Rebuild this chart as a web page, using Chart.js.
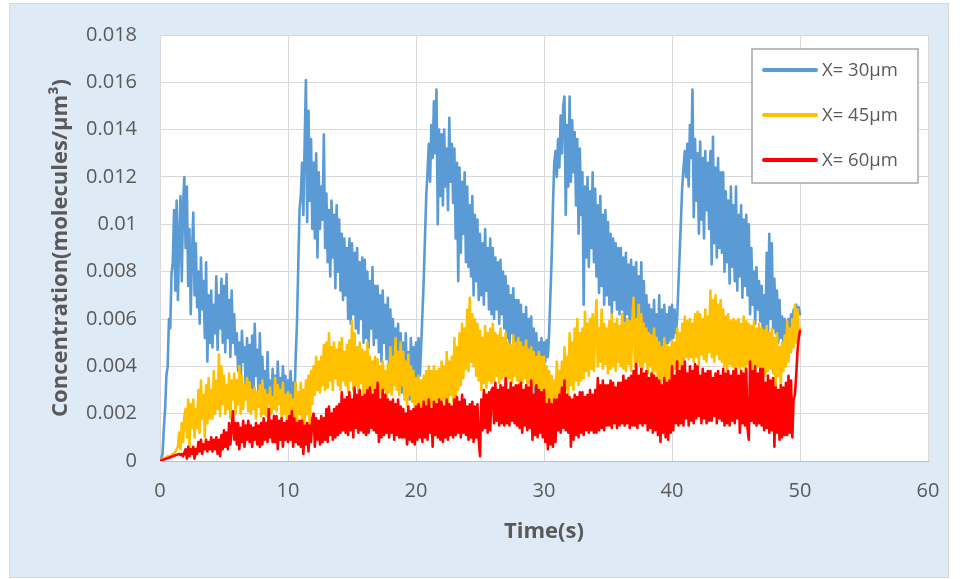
<!DOCTYPE html>
<html>
<head>
<meta charset="utf-8">
<title>Concentration vs time</title>
<script src="https://cdn.jsdelivr.net/npm/chart.js@4.4.1/dist/chart.umd.min.js"></script>
<style>
  html, body { margin: 0; padding: 0; background: #ffffff; }
  canvas { display: block; }
</style>
</head>
<body>
<canvas id="chart" width="960" height="579"></canvas>
<script>
// Sample times (s), one row per second
const times = [
  0,0.1,0.2,0.3,0.4,0.5,0.6,0.7,0.8,0.9,
  1,1.1,1.2,1.3,1.4,1.5,1.6,1.7,1.8,1.9,
  2,2.1,2.2,2.3,2.4,2.5,2.6,2.7,2.8,2.9,
  3,3.1,3.2,3.3,3.4,3.5,3.6,3.7,3.8,3.9,
  4,4.1,4.2,4.3,4.4,4.5,4.6,4.7,4.8,4.9,
  5,5.1,5.2,5.3,5.4,5.5,5.6,5.7,5.8,5.9,
  6,6.1,6.2,6.3,6.4,6.5,6.6,6.7,6.8,6.9,
  7,7.1,7.2,7.3,7.4,7.5,7.6,7.7,7.8,7.9,
  8,8.1,8.2,8.3,8.4,8.5,8.6,8.7,8.8,8.9,
  9,9.1,9.2,9.3,9.4,9.5,9.6,9.7,9.8,9.9,
  10,10.1,10.2,10.3,10.4,10.5,10.6,10.7,10.8,10.9,
  11,11.1,11.2,11.3,11.4,11.5,11.6,11.7,11.8,11.9,
  12,12.1,12.2,12.3,12.4,12.5,12.6,12.7,12.8,12.9,
  13,13.1,13.2,13.3,13.4,13.5,13.6,13.7,13.8,13.9,
  14,14.1,14.2,14.3,14.4,14.5,14.6,14.7,14.8,14.9,
  15,15.1,15.2,15.3,15.4,15.5,15.6,15.7,15.8,15.9,
  16,16.1,16.2,16.3,16.4,16.5,16.6,16.7,16.8,16.9,
  17,17.1,17.2,17.3,17.4,17.5,17.6,17.7,17.8,17.9,
  18,18.1,18.2,18.3,18.4,18.5,18.6,18.7,18.8,18.9,
  19,19.1,19.2,19.3,19.4,19.5,19.6,19.7,19.8,19.9,
  20,20.1,20.2,20.3,20.4,20.5,20.6,20.7,20.8,20.9,
  21,21.1,21.2,21.3,21.4,21.5,21.6,21.7,21.8,21.9,
  22,22.1,22.2,22.3,22.4,22.5,22.6,22.7,22.8,22.9,
  23,23.1,23.2,23.3,23.4,23.5,23.6,23.7,23.8,23.9,
  24,24.1,24.2,24.3,24.4,24.5,24.6,24.7,24.8,24.9,
  25,25.1,25.2,25.3,25.4,25.5,25.6,25.7,25.8,25.9,
  26,26.1,26.2,26.3,26.4,26.5,26.6,26.7,26.8,26.9,
  27,27.1,27.2,27.3,27.4,27.5,27.6,27.7,27.8,27.9,
  28,28.1,28.2,28.3,28.4,28.5,28.6,28.7,28.8,28.9,
  29,29.1,29.2,29.3,29.4,29.5,29.6,29.7,29.8,29.9,
  30,30.1,30.2,30.3,30.4,30.5,30.6,30.7,30.8,30.9,
  31,31.1,31.2,31.3,31.4,31.5,31.6,31.7,31.8,31.9,
  32,32.1,32.2,32.3,32.4,32.5,32.6,32.7,32.8,32.9,
  33,33.1,33.2,33.3,33.4,33.5,33.6,33.7,33.8,33.9,
  34,34.1,34.2,34.3,34.4,34.5,34.6,34.7,34.8,34.9,
  35,35.1,35.2,35.3,35.4,35.5,35.6,35.7,35.8,35.9,
  36,36.1,36.2,36.3,36.4,36.5,36.6,36.7,36.8,36.9,
  37,37.1,37.2,37.3,37.4,37.5,37.6,37.7,37.8,37.9,
  38,38.1,38.2,38.3,38.4,38.5,38.6,38.7,38.8,38.9,
  39,39.1,39.2,39.3,39.4,39.5,39.6,39.7,39.8,39.9,
  40,40.1,40.2,40.3,40.4,40.5,40.6,40.7,40.8,40.9,
  41,41.1,41.2,41.3,41.4,41.5,41.6,41.7,41.8,41.9,
  42,42.1,42.2,42.3,42.4,42.5,42.6,42.7,42.8,42.9,
  43,43.1,43.2,43.3,43.4,43.5,43.6,43.7,43.8,43.9,
  44,44.1,44.2,44.3,44.4,44.5,44.6,44.7,44.8,44.9,
  45,45.1,45.2,45.3,45.4,45.5,45.6,45.7,45.8,45.9,
  46,46.1,46.2,46.3,46.4,46.5,46.6,46.7,46.8,46.9,
  47,47.1,47.2,47.3,47.4,47.5,47.6,47.7,47.8,47.9,
  48,48.1,48.2,48.3,48.4,48.5,48.6,48.7,48.8,48.9,
  49,49.1,49.2,49.3,49.4,49.5,49.6,49.7,49.8,49.9,
  50
];

// Concentration (molecules/µm³) at X = 30 µm
const conc30 = [
  0,0.0001,0.0003,0.0014,0.0022,0.0036,0.0040,0.0060,0.0056,0.0079,
  0.0084,0.0106,0.0072,0.0110,0.0068,0.0094,0.0112,0.0076,0.0108,0.0120,
  0.0090,0.0116,0.0074,0.0098,0.0062,0.0088,0.0105,0.0070,0.0092,0.0065,
  0.0080,0.0058,0.0086,0.0064,0.0076,0.0052,0.0084,0.0042,0.0070,0.0050,
  0.0072,0.0048,0.0066,0.0054,0.0078,0.0047,0.0070,0.0056,0.0077,0.0050,
  0.0074,0.0046,0.0079,0.0052,0.0068,0.0044,0.0072,0.0050,0.0062,0.0045,
  0.0054,0.0038,0.0050,0.0033,0.0055,0.0042,0.0048,0.0030,0.0052,0.0034,
  0.0049,0.0031,0.0053,0.0028,0.0058,0.0036,0.0047,0.0026,0.0054,0.0032,
  0.0044,0.0024,0.0038,0.0020,0.0046,0.0026,0.0034,0.0021,0.0039,0.0025,
  0.0036,0.0022,0.0042,0.0027,0.0035,0.0023,0.0040,0.0028,0.0036,0.0022,
  0.0034,0.0022,0.0038,0.0026,0.0033,0.0024,0.0044,0.0058,0.0082,0.0106,
  0.0112,0.0126,0.0104,0.0134,0.0161,0.0101,0.0148,0.0110,0.0136,0.0098,
  0.0126,0.0094,0.0130,0.0086,0.0122,0.0098,0.0116,0.0102,0.0138,0.0090,
  0.0113,0.0084,0.0106,0.0078,0.0110,0.0086,0.0104,0.0073,0.0108,0.0080,
  0.0102,0.0072,0.0096,0.0068,0.0094,0.0070,0.0090,0.0060,0.0094,0.0058,
  0.0092,0.0062,0.0088,0.0056,0.0090,0.0054,0.0084,0.0060,0.0086,0.0050,
  0.0085,0.0052,0.0080,0.0048,0.0076,0.0056,0.0082,0.0049,0.0074,0.0052,
  0.0074,0.0046,0.0070,0.0042,0.0072,0.0050,0.0066,0.0043,0.0069,0.0040,
  0.0064,0.0038,0.0060,0.0034,0.0056,0.0039,0.0058,0.0032,0.0054,0.0029,
  0.0050,0.0028,0.0054,0.0032,0.0046,0.0026,0.0052,0.0034,0.0048,0.0030,
  0.0050,0.0034,0.0052,0.0036,0.0048,0.0062,0.0076,0.0094,0.0112,0.0122,
  0.0134,0.0118,0.0142,0.0128,0.0152,0.0130,0.0157,0.0100,0.0140,0.0112,
  0.0138,0.0108,0.0140,0.0116,0.0132,0.0106,0.0145,0.0118,0.0134,0.0109,
  0.0132,0.0094,0.0126,0.0076,0.0124,0.0088,0.0118,0.0096,0.0122,0.0084,
  0.0116,0.0082,0.0108,0.0078,0.0112,0.0070,0.0104,0.0076,0.0102,0.0068,
  0.0096,0.0070,0.0092,0.0066,0.0098,0.0072,0.0090,0.0064,0.0094,0.0062,
  0.0090,0.0060,0.0086,0.0064,0.0084,0.0058,0.0085,0.0062,0.0080,0.0056,
  0.0078,0.0052,0.0074,0.0048,0.0070,0.0054,0.0073,0.0045,0.0068,0.0047,
  0.0068,0.0042,0.0066,0.0046,0.0062,0.0038,0.0065,0.0044,0.0060,0.0039,
  0.0061,0.0036,0.0056,0.0024,0.0054,0.0038,0.0050,0.0034,0.0052,0.0039,
  0.0050,0.0042,0.0051,0.0044,0.0054,0.0070,0.0086,0.0108,0.0126,0.0131,
  0.0120,0.0136,0.0124,0.0146,0.0130,0.0150,0.0154,0.0104,0.0142,0.0116,
  0.0154,0.0118,0.0144,0.0122,0.0139,0.0108,0.0136,0.0096,0.0132,0.0104,
  0.0122,0.0066,0.0116,0.0086,0.0120,0.0082,0.0114,0.0090,0.0122,0.0084,
  0.0115,0.0078,0.0108,0.0071,0.0112,0.0074,0.0104,0.0066,0.0106,0.0070,
  0.0101,0.0066,0.0096,0.0062,0.0094,0.0068,0.0092,0.0064,0.0090,0.0062,
  0.0090,0.0064,0.0086,0.0059,0.0088,0.0062,0.0083,0.0056,0.0085,0.0058,
  0.0082,0.0054,0.0084,0.0050,0.0078,0.0056,0.0084,0.0048,0.0076,0.0052,
  0.0070,0.0050,0.0066,0.0052,0.0064,0.0046,0.0068,0.0040,0.0062,0.0044,
  0.0070,0.0042,0.0064,0.0048,0.0066,0.0044,0.0062,0.0050,0.0065,0.0051,
  0.0066,0.0052,0.0064,0.0054,0.0060,0.0074,0.0088,0.0102,0.0116,0.0124,
  0.0131,0.0120,0.0134,0.0116,0.0142,0.0128,0.0157,0.0103,0.0136,0.0110,
  0.0130,0.0096,0.0135,0.0102,0.0128,0.0094,0.0131,0.0106,0.0126,0.0098,
  0.0131,0.0083,0.0137,0.0092,0.0124,0.0086,0.0128,0.0090,0.0122,0.0088,
  0.0122,0.0080,0.0114,0.0084,0.0110,0.0075,0.0116,0.0082,0.0108,0.0076,
  0.0116,0.0072,0.0104,0.0078,0.0108,0.0069,0.0102,0.0074,0.0104,0.0070,
  0.0100,0.0062,0.0090,0.0066,0.0080,0.0058,0.0082,0.0064,0.0076,0.0059,
  0.0074,0.0052,0.0070,0.0056,0.0088,0.0054,0.0096,0.0060,0.0092,0.0056,
  0.0077,0.0054,0.0072,0.0050,0.0068,0.0052,0.0061,0.0050,0.0060,0.0053,
  0.0058,0.0060,0.0056,0.0062,0.0057,0.0064,0.0059,0.0066,0.0063,0.0065,
  0.0062
];

// Concentration (molecules/µm³) at X = 45 µm
const conc45 = [
  0,0.00005,0.0001,0.0001,0.00015,0.00015,0.0002,0.0002,0.0002,0.00025,
  0.0003,0.0003,0.0004,0.0005,0.0006,0.0012,0.0005,0.0016,0.0008,0.0019,
  0.0022,0.0010,0.0026,0.0006,0.0024,0.0014,0.0026,0.0010,0.0022,0.0014,
  0.0030,0.0012,0.0034,0.0018,0.0028,0.0010,0.0032,0.0016,0.0035,0.0018,
  0.0030,0.0018,0.0038,0.0020,0.0034,0.0022,0.0045,0.0019,0.0040,0.0024,
  0.0036,0.0020,0.0032,0.0022,0.0037,0.0018,0.0034,0.0026,0.0037,0.0020,
  0.0034,0.0024,0.0040,0.0020,0.0036,0.0022,0.0032,0.0026,0.0035,0.0021,
  0.0033,0.0020,0.0030,0.0022,0.0031,0.0018,0.0029,0.0023,0.0032,0.0019,
  0.0034,0.0020,0.0030,0.0019,0.0028,0.0024,0.0031,0.0020,0.0027,0.0022,
  0.0035,0.0021,0.0032,0.0024,0.0030,0.0018,0.0033,0.0020,0.0028,0.0018,
  0.0029,0.0018,0.0028,0.0017,0.0026,0.0019,0.0033,0.0016,0.0029,0.0020,
  0.0033,0.0014,0.0030,0.0016,0.0034,0.0020,0.0036,0.0013,0.0038,0.0024,
  0.0040,0.0028,0.0044,0.0030,0.0042,0.0029,0.0044,0.0032,0.0049,0.0030,
  0.0050,0.0031,0.0054,0.0034,0.0048,0.0030,0.0050,0.0035,0.0047,0.0032,
  0.0050,0.0030,0.0052,0.0034,0.0046,0.0032,0.0049,0.0029,0.0051,0.0034,
  0.0059,0.0030,0.0054,0.0032,0.0048,0.0029,0.0050,0.0033,0.0047,0.0028,
  0.0046,0.0029,0.0050,0.0031,0.0044,0.0028,0.0042,0.0030,0.0044,0.0026,
  0.0043,0.0027,0.0040,0.0028,0.0042,0.0030,0.0038,0.0027,0.0041,0.0029,
  0.0048,0.0028,0.0044,0.0032,0.0052,0.0030,0.0046,0.0028,0.0050,0.0032,
  0.0046,0.0026,0.0042,0.0023,0.0045,0.0028,0.0040,0.0025,0.0038,0.0023,
  0.0035,0.0020,0.0036,0.0022,0.0034,0.0021,0.0036,0.0022,0.0038,0.0020,
  0.0040,0.0023,0.0038,0.0024,0.0040,0.0022,0.0038,0.0026,0.0039,0.0023,
  0.0042,0.0026,0.0040,0.0024,0.0046,0.0025,0.0042,0.0028,0.0044,0.0025,
  0.0052,0.0024,0.0048,0.0030,0.0054,0.0032,0.0058,0.0035,0.0056,0.0039,
  0.0064,0.0038,0.0069,0.0042,0.0062,0.0040,0.0060,0.0036,0.0058,0.0034,
  0.0055,0.0030,0.0052,0.0033,0.0057,0.0031,0.0054,0.0034,0.0056,0.0033,
  0.0058,0.0034,0.0054,0.0036,0.0053,0.0033,0.0056,0.0035,0.0052,0.0036,
  0.0054,0.0032,0.0050,0.0035,0.0049,0.0033,0.0053,0.0036,0.0050,0.0034,
  0.0052,0.0031,0.0050,0.0033,0.0048,0.0035,0.0051,0.0032,0.0047,0.0033,
  0.0048,0.0030,0.0046,0.0032,0.0044,0.0030,0.0046,0.0028,0.0044,0.0026,
  0.0044,0.0022,0.0040,0.0020,0.0038,0.0017,0.0036,0.0022,0.0034,0.0022,
  0.0042,0.0024,0.0038,0.0026,0.0042,0.0024,0.0048,0.0030,0.0044,0.0028,
  0.0054,0.0032,0.0050,0.0030,0.0056,0.0034,0.0060,0.0032,0.0054,0.0034,
  0.0056,0.0035,0.0063,0.0038,0.0058,0.0036,0.0060,0.0039,0.0062,0.0038,
  0.0058,0.0068,0.0040,0.0056,0.0042,0.0064,0.0039,0.0058,0.0041,0.0056,
  0.0037,0.0059,0.0039,0.0062,0.0040,0.0058,0.0038,0.0060,0.0042,0.0057,
  0.0040,0.0062,0.0039,0.0058,0.0038,0.0060,0.0041,0.0059,0.0038,0.0060,
  0.0069,0.0040,0.0060,0.0042,0.0066,0.0040,0.0062,0.0039,0.0058,0.0042,
  0.0056,0.0037,0.0054,0.0040,0.0053,0.0036,0.0056,0.0038,0.0052,0.0034,
  0.0050,0.0031,0.0048,0.0034,0.0052,0.0032,0.0049,0.0033,0.0048,0.0035,
  0.0051,0.0038,0.0050,0.0039,0.0056,0.0040,0.0054,0.0039,0.0058,0.0041,
  0.0061,0.0044,0.0059,0.0043,0.0060,0.0044,0.0058,0.0042,0.0062,0.0044,
  0.0063,0.0041,0.0062,0.0045,0.0060,0.0043,0.0064,0.0042,0.0061,0.0046,
  0.0072,0.0044,0.0068,0.0042,0.0070,0.0045,0.0066,0.0043,0.0068,0.0042,
  0.0064,0.0040,0.0061,0.0038,0.0062,0.0041,0.0059,0.0040,0.0060,0.0039,
  0.0059,0.0040,0.0060,0.0039,0.0058,0.0040,0.0061,0.0038,0.0059,0.0041,
  0.0058,0.0040,0.0057,0.0038,0.0059,0.0039,0.0056,0.0040,0.0058,0.0038,
  0.0056,0.0040,0.0055,0.0036,0.0057,0.0038,0.0054,0.0039,0.0056,0.0037,
  0.0052,0.0030,0.0054,0.0036,0.0048,0.0032,0.0050,0.0038,0.0053,0.0040,
  0.0059,0.0042,0.0056,0.0046,0.0060,0.0048,0.0066,0.0050,0.0064,0.0054,
  0.0056
];

// Concentration (molecules/µm³) at X = 60 µm
const conc60 = [
  0,0.00002,0.00004,0.00006,0.00008,0.0001,0.00012,0.00014,0.00016,0.00018,
  0.0002,0.00022,0.00024,0.00026,0.00028,0.0003,0.00025,0.0003,0.0002,0.00035,
  0.0005,0.0001,0.0006,0.0002,0.0005,0.0003,0.0006,0.0001,0.0005,0.0003,
  0.0008,0.0004,0.0009,0.0003,0.0007,0.0005,0.0009,0.0004,0.0008,0.0005,
  0.0010,0.0004,0.0009,0.0005,0.0010,0.0003,0.0009,0.0002,0.0011,0.0005,
  0.0013,0.0006,0.0012,0.0005,0.0016,0.0007,0.0014,0.0021,0.0009,0.0016,
  0.0007,0.0016,0.0005,0.0014,0.0008,0.0017,0.0006,0.0015,0.0009,0.0017,
  0.0008,0.0015,0.0006,0.0014,0.0009,0.0016,0.0007,0.0015,0.0006,0.0016,
  0.0007,0.0018,0.0009,0.0016,0.0008,0.0022,0.0010,0.0017,0.0008,0.0019,
  0.0008,0.0019,0.0005,0.0017,0.0009,0.0018,0.0006,0.0016,0.0009,0.0017,
  0.0008,0.0019,0.0009,0.0021,0.0006,0.0018,0.0008,0.0016,0.0007,0.0017,
  0.0006,0.0017,0.0003,0.0015,0.0007,0.0016,0.0004,0.0015,0.0008,0.0018,
  0.0020,0.0006,0.0018,0.0009,0.0017,0.0007,0.0019,0.0008,0.0018,0.0009,
  0.0022,0.0008,0.0023,0.0011,0.0020,0.0009,0.0022,0.0010,0.0023,0.0011,
  0.0024,0.0012,0.0029,0.0013,0.0026,0.0012,0.0027,0.0011,0.0029,0.0013,
  0.0026,0.0010,0.0031,0.0014,0.0028,0.0012,0.0030,0.0013,0.0027,0.0012,
  0.0028,0.0011,0.0030,0.0012,0.0031,0.0014,0.0028,0.0013,0.0030,0.0012,
  0.0033,0.0008,0.0026,0.0010,0.0030,0.0011,0.0028,0.0012,0.0026,0.0010,
  0.0025,0.0012,0.0026,0.0009,0.0024,0.0011,0.0026,0.0010,0.0023,0.0010,
  0.0022,0.0010,0.0020,0.0007,0.0023,0.0009,0.0021,0.0008,0.0022,0.0007,
  0.0023,0.0009,0.0024,0.0010,0.0022,0.0008,0.0025,0.0010,0.0023,0.0009,
  0.0026,0.0012,0.0022,0.0006,0.0025,0.0011,0.0024,0.0010,0.0026,0.0009,
  0.0025,0.0008,0.0023,0.0010,0.0026,0.0009,0.0024,0.0011,0.0023,0.0010,
  0.0026,0.0011,0.0027,0.0012,0.0025,0.0010,0.0028,0.0012,0.0026,0.0011,
  0.0023,0.0009,0.0024,0.0010,0.0025,0.0008,0.0023,0.0010,0.0024,0.0009,
  0.0002,0.0026,0.0013,0.0030,0.0014,0.0028,0.0012,0.0029,0.0013,0.0030,
  0.0031,0.0016,0.0033,0.0017,0.0030,0.0015,0.0032,0.0016,0.0031,0.0015,
  0.0035,0.0016,0.0030,0.0015,0.0033,0.0017,0.0031,0.0016,0.0032,0.0015,
  0.0032,0.0014,0.0033,0.0012,0.0030,0.0015,0.0032,0.0013,0.0031,0.0014,
  0.0034,0.0009,0.0028,0.0011,0.0032,0.0010,0.0030,0.0012,0.0029,0.0010,
  0.0030,0.0008,0.0024,0.0005,0.0026,0.0007,0.0024,0.0006,0.0026,0.0008,
  0.0026,0.0013,0.0028,0.0012,0.0031,0.0014,0.0034,0.0013,0.0028,0.0012,
  0.0027,0.0006,0.0026,0.0009,0.0028,0.0011,0.0027,0.0010,0.0029,0.0012,
  0.0029,0.0011,0.0027,0.0013,0.0028,0.0012,0.0030,0.0013,0.0028,0.0012,
  0.0030,0.0012,0.0035,0.0013,0.0032,0.0014,0.0034,0.0013,0.0032,0.0015,
  0.0032,0.0015,0.0034,0.0014,0.0033,0.0016,0.0031,0.0014,0.0033,0.0015,
  0.0033,0.0016,0.0036,0.0015,0.0034,0.0016,0.0035,0.0014,0.0036,0.0015,
  0.0038,0.0015,0.0041,0.0014,0.0036,0.0016,0.0039,0.0015,0.0037,0.0016,
  0.0038,0.0013,0.0035,0.0014,0.0037,0.0012,0.0036,0.0013,0.0035,0.0011,
  0.0034,0.0008,0.0032,0.0012,0.0035,0.0010,0.0033,0.0009,0.0034,0.0012,
  0.0040,0.0013,0.0036,0.0016,0.0042,0.0015,0.0038,0.0016,0.0040,0.0015,
  0.0042,0.0018,0.0037,0.0015,0.0040,0.0017,0.0038,0.0016,0.0041,0.0018,
  0.0040,0.0019,0.0036,0.0016,0.0039,0.0018,0.0037,0.0016,0.0038,0.0017,
  0.0038,0.0017,0.0035,0.0019,0.0037,0.0016,0.0038,0.0018,0.0036,0.0017,
  0.0039,0.0015,0.0037,0.0016,0.0038,0.0015,0.0036,0.0017,0.0038,0.0016,
  0.0039,0.0018,0.0036,0.0012,0.0038,0.0016,0.0037,0.0015,0.0039,0.0014,
  0.0009,0.0042,0.0017,0.0038,0.0016,0.0040,0.0015,0.0037,0.0016,0.0039,
  0.0015,0.0039,0.0013,0.0033,0.0014,0.0036,0.0012,0.0034,0.0013,0.0035,
  0.0006,0.0031,0.0012,0.0030,0.0009,0.0032,0.0010,0.0031,0.0011,0.0033,
  0.0011,0.0036,0.0012,0.0034,0.0010,0.0026,0.0028,0.0036,0.0046,0.0052,
  0.0055
];

const seriesLabels = ['X= 30µm', 'X= 45µm', 'X= 60µm'];
const seriesColors = ['#5B9BD5', '#FFC000', '#FF0000'];

const xTickValues = [0, 10, 20, 30, 40, 50, 60];
const yTickValues = [0, 0.002, 0.004, 0.006, 0.008, 0.01, 0.012, 0.014, 0.016, 0.018];
const yTickLabels = ['0', '0.002', '0.004', '0.006', '0.008', '0.01', '0.012', '0.014', '0.016', '0.018'];

const FONT = "'Open Sans', 'Noto Sans', sans-serif";
const TEXT_GREY = '#595959';

function toPoints(values) {
  return times.map((t, i) => ({ x: t, y: values[i] }));
}

// Light-blue chart frame and white plot area
const framePlugin = {
  id: 'frame',
  beforeDraw(chart) {
    const { ctx, chartArea } = chart;
    ctx.save();
    ctx.fillStyle = '#ffffff';
    ctx.fillRect(0, 0, chart.width, chart.height);
    ctx.fillStyle = '#DEEAF6';
    ctx.fillRect(9, 3, 940, 575);
    ctx.strokeStyle = '#D9D9D9';
    ctx.lineWidth = 1;
    ctx.strokeRect(9.5, 3.5, 939, 574);
    ctx.fillStyle = '#ffffff';
    ctx.fillRect(chartArea.left, chartArea.top, chartArea.right - chartArea.left, chartArea.bottom - chartArea.top);
    ctx.restore();
  }
};

// Boxed legend in the upper right of the plot area
const boxedLegend = {
  id: 'boxedLegend',
  afterDraw(chart) {
    const { ctx, chartArea } = chart;
    const w = 166, h = 134;
    const left = chartArea.right - 10 - w;
    const top = chartArea.top + 14;
    ctx.save();
    ctx.fillStyle = '#ffffff';
    ctx.fillRect(left, top, w, h);
    ctx.strokeStyle = '#A6A6A6';
    ctx.lineWidth = 1.5;
    ctx.strokeRect(left, top, w, h);
    ctx.font = "18.5px " + FONT;
    ctx.textBaseline = 'middle';
    ctx.textAlign = 'left';
    chart.data.datasets.forEach((ds, i) => {
      const y = top + 21 + i * 45;
      ctx.strokeStyle = ds.borderColor;
      ctx.lineWidth = 4;
      ctx.lineCap = 'round';
      ctx.beginPath();
      ctx.moveTo(left + 12, y);
      ctx.lineTo(left + 64, y);
      ctx.stroke();
      ctx.fillStyle = TEXT_GREY;
      ctx.fillText(ds.label, left + 70, y + 1);
    });
    ctx.restore();
  }
};

const datasets = [conc30, conc45, conc60].map((values, i) => ({
  label: seriesLabels[i],
  data: toPoints(values),
  borderColor: seriesColors[i],
  backgroundColor: seriesColors[i],
  borderWidth: 2.6,
  pointRadius: 0,
  tension: 0,
  fill: false,
  borderJoinStyle: 'round',
  borderCapStyle: 'round',
  order: 3 - i
}));

new Chart(document.getElementById('chart'), {
  type: 'line',
  data: { datasets },
  plugins: [framePlugin, boxedLegend],
  options: {
    responsive: false,
    animation: false,
    events: [],
    layout: { padding: { top: 33, right: 32, left: 0, bottom: 0 } },
    plugins: {
      legend: { display: false },
      tooltip: { enabled: false }
    },
    scales: {
      x: {
        type: 'linear',
        min: 0,
        max: 60,
        afterBuildTicks(scale) { scale.ticks = xTickValues.map(v => ({ value: v })); },
        afterFit(scale) { scale.height = 118; },
        grid: { color: '#D9D9D9', lineWidth: 1, drawTicks: false },
        border: { color: '#BFBFBF', width: 1 },
        ticks: {
          padding: 18,
          color: TEXT_GREY,
          font: { family: FONT, size: 20 },
          maxRotation: 0
        },
        title: {
          display: true,
          text: 'Time(s)',
          color: TEXT_GREY,
          font: { family: FONT, size: 22, weight: 'bold' },
          padding: { top: 0, bottom: 34 }
        }
      },
      y: {
        type: 'linear',
        min: 0,
        max: 0.018,
        afterBuildTicks(scale) { scale.ticks = yTickValues.map(v => ({ value: v })); },
        afterFit(scale) { scale.width = 160; },
        grid: { color: '#D9D9D9', lineWidth: 1, drawTicks: false },
        border: { color: '#D9D9D9', width: 1 },
        ticks: {
          padding: 23,
          color: TEXT_GREY,
          font: { family: FONT, size: 20 },
          callback: (value, index) => yTickLabels[index]
        },
        title: {
          display: true,
          text: 'Concentration(molecules/µm³)',
          color: TEXT_GREY,
          font: { family: FONT, size: 22, weight: 'bold' },
          padding: { top: 48, bottom: 0 }
        }
      }
    }
  }
});
</script>
</body>
</html>
